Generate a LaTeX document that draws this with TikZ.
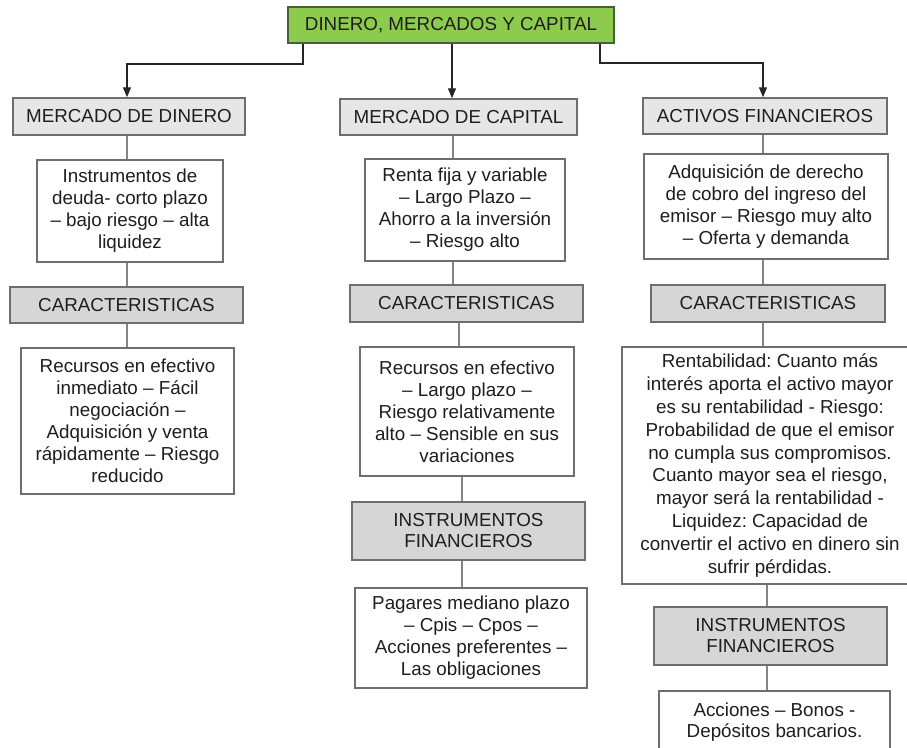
\documentclass[tikz,border=0pt]{standalone}
\usepackage{fontspec}
\setmainfont{Liberation Sans}
\frenchspacing
\usetikzlibrary{arrows.meta}
\definecolor{bord}{HTML}{6E6E6E}
\definecolor{txt}{HTML}{1E1E1E}
\definecolor{topgreen}{HTML}{8DCB4E}
\definecolor{topborder}{HTML}{46603A}
\definecolor{lightgrayA}{HTML}{E6E6E6}
\definecolor{midgrayA}{HTML}{D6D6D6}
\begin{document}
\begin{tikzpicture}[x=1pt,y=-1pt,
  box/.style={draw=bord, line width=1.5pt, text=txt, align=center, inner sep=0pt,
    font=\fontsize{18.8}{22}\selectfont},
  head/.style={box, fill=lightgrayA},
  subhead/.style={box, fill=midgrayA},
  info/.style={box, fill=white},
  link/.style={draw=bord!85, line width=1.3pt},
  arr/.style={draw=black!85, line width=1.3pt, -{Triangle[length=10pt,width=8pt]}}]
\useasboundingbox (0,0) rectangle (907,747);
\fill[white] (0,0) rectangle (907,747);
\clip (0,0) rectangle (907,747);

% column coordinates
\coordinate (cL) at (127,0);
\coordinate (cM0) at (452,0);
\coordinate (cM1) at (453,0);
\coordinate (cM2) at (459,0);
\coordinate (cM3) at (462,0);
\coordinate (cR1) at (763,0);
\coordinate (cR2) at (767,0);
\coordinate (kL) at (303,64);
\coordinate (kR) at (600,63);

% top
\node[box, fill=topgreen, draw=topborder, minimum width=326pt, minimum height=36pt] (top) at (451,25) {DINERO, MERCADOS Y CAPITAL};

% level 1
\node[head, minimum width=232pt, minimum height=37pt] (mdin) at (129,116.5) {MERCADO DE DINERO};
\node[head, minimum width=237pt, minimum height=36pt] (mcap) at (458.5,117) {MERCADO DE CAPITAL};
\node[head, minimum width=244pt, minimum height=36pt] (act) at (765,116) {ACTIVOS FINANCIEROS};

% level 2
\node[info, minimum width=186pt, minimum height=102pt] (d2) at (130,211)
  {Instrumentos de\\deuda- corto plazo\\– bajo riesgo – alta\\liquidez};
\node[info, minimum width=200pt, minimum height=102pt] (c2) at (465,210)
  {Renta fija y variable\\– Largo Plazo –\\Ahorro a la inversión\\– Riesgo alto};
\node[info, minimum width=244pt, minimum height=105pt] (a2) at (766,206.5)
  {Adquisición de derecho\\de cobro del ingreso del\\emisor – Riesgo muy alto\\– Oferta y demanda};

% level 3
\node[subhead, minimum width=233pt, minimum height=36pt] (d3) at (126.5,305) {CARACTERISTICAS};
\node[subhead, minimum width=233pt, minimum height=37pt] (c3) at (466.5,303.5) {CARACTERISTICAS};
\node[subhead, minimum width=234pt, minimum height=37pt] (a3) at (768,303.5) {CARACTERISTICAS};

% level 4
\node[info, minimum width=213pt, minimum height=146pt] (d4) at (127.5,421)
  {Recursos en efectivo\\inmediato – Fácil\\negociación –\\Adquisición y venta\\rápidamente – Riesgo\\reducido};
\node[info, minimum width=214pt, minimum height=129pt] (c4) at (467,411.5)
  {Recursos en efectivo\\– Largo plazo –\\Riesgo relativamente\\alto – Sensible en sus\\variaciones};
\node[info, minimum width=296pt, minimum height=237pt, font=\fontsize{18.8}{22.8}\selectfont] (a4) at (770,465.5)
  {Rentabilidad: Cuanto más\\interés aporta el activo mayor\\es su rentabilidad - Riesgo:\\Probabilidad de que el emisor\\no cumpla sus compromisos.\\Cuanto mayor sea el riesgo,\\mayor será la rentabilidad -\\Liquidez: Capacidad de\\convertir el activo en dinero sin\\sufrir pérdidas.};

% level 5 / 6
\node[subhead, minimum width=233pt, minimum height=58pt, font=\fontsize{18.8}{21}\selectfont] (c5) at (468.5,531) {INSTRUMENTOS\\FINANCIEROS};
\node[info, minimum width=232pt, minimum height=100pt] (c6) at (471,638)
  {Pagares mediano plazo\\– Cpis – Cpos –\\Acciones preferentes –\\Las obligaciones};
\node[subhead, minimum width=233pt, minimum height=58pt, font=\fontsize{18.8}{21}\selectfont] (a5) at (770.5,636) {INSTRUMENTOS\\FINANCIEROS};
\node[info, minimum width=231pt, minimum height=62pt, font=\fontsize{18.8}{20.5}\selectfont] (a6) at (774.5,722)
  {Acciones – Bonos -\\Depósitos bancarios.};

% arrows from top
\draw[arr] (top.south -| kL) -- (kL) -| (mdin.north -| cL);
\draw[arr] (top.south -| cM0) -- (mcap.north -| cM0);
\draw[arr] (top.south -| kR) -- (kR) -| (act.north -| cR1);

% links
\draw[link] (mdin.south -| cL) -- (d2.north -| cL);
\draw[link] (d2.south -| cL) -- (d3.north -| cL);
\draw[link] (d3.south -| cL) -- (d4.north -| cL);

\draw[link] (mcap.south -| cM1) -- (c2.north -| cM1);
\draw[link] (c2.south -| cM1) -- (c3.north -| cM1);
\draw[link] (c3.south -| cM2) -- (c4.north -| cM2);
\draw[link] (c4.south -| cM3) -- (c5.north -| cM3);
\draw[link] (c5.south -| cM3) -- (c6.north -| cM3);

\draw[link] (act.south -| cR1) -- (a2.north -| cR1);
\draw[link] (a2.south -| cR1) -- (a3.north -| cR1);
\draw[link] (a3.south -| cR1) -- (a4.north -| cR1);
\draw[link] (a4.south -| cR2) -- (a5.north -| cR2);
\draw[link] (a5.south -| cR2) -- (a6.north -| cR2);
\end{tikzpicture}
\end{document}
